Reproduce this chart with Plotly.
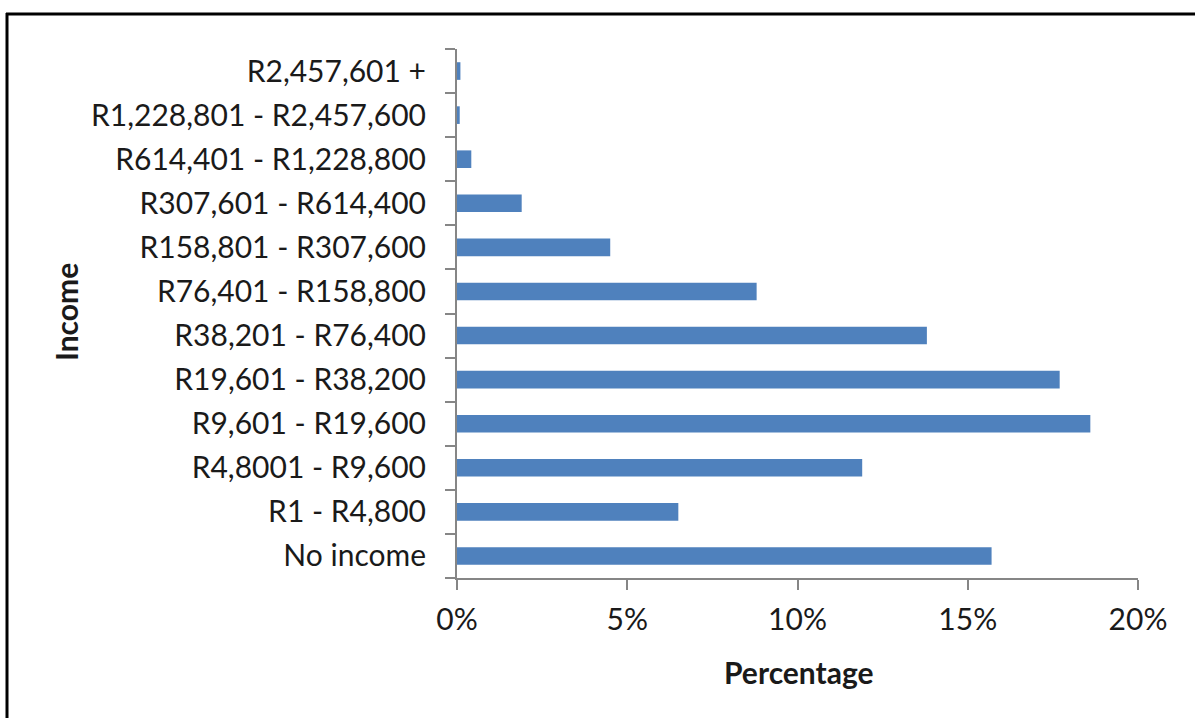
import plotly.graph_objects as go

categories = [
    "No income", "R1 - R4,800", "R4,8001 - R9,600", "R9,601 - R19,600",
    "R19,601 - R38,200", "R38,201 - R76,400", "R76,401 - R158,800",
    "R158,801 - R307,600", "R307,601 - R614,400", "R614,401 - R1,228,800",
    "R1,228,801 - R2,457,600", "R2,457,601 +",
]
percentages = [15.7, 6.5, 11.9, 18.6, 17.7, 13.8, 8.8, 4.5, 1.9, 0.42, 0.08, 0.1]
x_ticks = [0, 5, 10, 15, 20]
x_tick_labels = ["0%", "5%", "10%", "15%", "20%"]

W, H = 1195, 718
ML, MR, MT, MB = 457, 57, 49, 140
PW, PH = W - ML - MR, H - MT - MB

def px(x):
    return (x - ML) / PW

def py(y):
    return 1 - (y - MT) / PH

FONT = "Lato"
TXT = "#1a1a1a"
AX = "#868686"

fig = go.Figure(go.Bar(
    x=percentages, y=categories, orientation="h",
    marker=dict(color="#4F81BD", line=dict(width=0)),
    width=0.4,
))

fig.update_layout(
    width=W, height=H,
    margin=dict(l=ML, r=MR, t=MT, b=MB, pad=0),
    paper_bgcolor="white", plot_bgcolor="white",
    showlegend=False,
    font=dict(family=FONT, color=TXT, size=30),
    xaxis=dict(
        range=[0, 20], tickmode="array", tickvals=x_ticks, ticktext=x_tick_labels,
        showgrid=False, zeroline=False,
        showline=True, linecolor=AX, linewidth=2,
        ticks="outside", ticklen=10, tickwidth=2, tickcolor=AX,
        tickfont=dict(family=FONT, size=30, color=TXT),
        ticklabelstandoff=4,
    ),
    yaxis=dict(
        categoryorder="array", categoryarray=categories,
        range=[-0.5, len(categories) - 0.5],
        showgrid=False, zeroline=False,
        showline=True, linecolor=AX, linewidth=2,
        ticks="outside", tickson="boundaries", ticklen=10, tickwidth=2, tickcolor=AX,
        tickfont=dict(family=FONT, size=30, color=TXT),
        ticklabelstandoff=23,
    ),
    annotations=[
        dict(text="<b>Percentage</b>", x=px(799), y=py(672), xref="paper", yref="paper",
             showarrow=False, xanchor="center", yanchor="middle",
             font=dict(family=FONT, size=30, color=TXT)),
        dict(text="<b>Income</b>", x=px(66), y=py(312), xref="paper", yref="paper",
             showarrow=False, xanchor="center", yanchor="middle", textangle=-90,
             font=dict(family=FONT, size=30, color=TXT)),
    ],
    shapes=[
        dict(type="line", xref="paper", yref="paper", x0=px(7), x1=px(7),
             y0=py(13), y1=py(730), line=dict(color="black", width=3)),
        dict(type="line", xref="paper", yref="paper", x0=px(6), x1=px(1210),
             y0=py(14), y1=py(14), line=dict(color="black", width=3)),
    ],
)

fig.write_html("out.html")
